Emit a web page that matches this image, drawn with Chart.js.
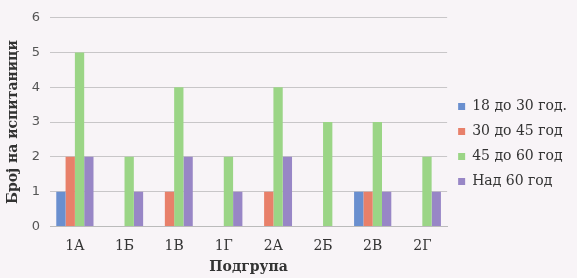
<!DOCTYPE html>
<html lang="mk">
<head>
<meta charset="utf-8">
<title>Подгрупа</title>
<script src="https://cdn.jsdelivr.net/npm/chart.js"></script>
<style>
  html, body { margin: 0; padding: 0; background: #f8f4f7; }
  .wrap { position: relative; width: 577px; height: 278px; }
</style>
</head>
<body>
<div class="wrap">
  <canvas id="chart"></canvas>
</div>
<script>
// подгрупи и број на испитаници по возрасна група
const categories = ['1А', '1Б', '1В', '1Г', '2А', '2Б', '2В', '2Г'];
const seriesNames = ['18 до 30 год.', '30 до 45 год', '45 до 60 год', 'Над 60 год'];
const age18to30 = [1, 0, 0, 0, 0, 0, 1, 0];
const age30to45 = [2, 0, 1, 0, 1, 0, 1, 0];
const age45to60 = [5, 2, 4, 2, 4, 3, 3, 2];
const over60 = [2, 1, 2, 1, 2, 0, 1, 1];
const yTicks = [0, 1, 2, 3, 4, 5, 6];

const colors = ['#6a8fcf', '#e8806a', '#9bd586', '#9886c6'];
const values = [age18to30, age30to45, age45to60, over60];

const ctx = document.getElementById('chart');

new Chart(ctx, {
    type: 'bar',
    data: {
        labels: categories,
        datasets: seriesNames.map((name, i) => ({
            label: name,
            data: values[i],
            backgroundColor: colors[i],
            barPercentage: 1.0,
            categoryPercentage: 0.75
        }))
    },
    options: {
        responsive: true,
        maintainAspectRatio: false,
        animation: false,
        layout: { padding: { top: 12, left: 5, right: 0, bottom: 2 } },
        plugins: {
            legend: {
                position: 'right',
                labels: {
                    boxWidth: 7,
                    boxHeight: 7,
                    padding: 11,
                    color: '#333',
                    font: { family: 'DejaVu Serif', size: 14 }
                }
            },
            tooltip: { enabled: false }
        },
        scales: {
            x: {
                grid: { display: false },
                border: { color: '#bbb' },
                ticks: { color: '#333', padding: 4, font: { family: 'DejaVu Serif', size: 14 } },
                title: {
                    display: true,
                    text: 'Подгрупа',
                    color: '#333',
                    padding: { top: 0, bottom: 0 },
                    font: { family: 'DejaVu Serif', size: 14, weight: 'bold' }
                }
            },
            y: {
                min: 0,
                max: 6,
                afterBuildTicks: axis => { axis.ticks = yTicks.map(v => ({ value: v })); },
                grid: { color: '#c8c6c8', drawTicks: false },
                border: { display: false },
                ticks: { color: '#555', padding: 10, font: { family: 'DejaVu Sans', size: 13 } },
                title: {
                    display: true,
                    text: 'Број на испитаници',
                    color: '#333',
                    padding: { top: 0, bottom: 0 },
                    font: { family: 'DejaVu Serif', size: 14, weight: 'bold' }
                }
            }
        }
    }
});
</script>
</body>
</html>
